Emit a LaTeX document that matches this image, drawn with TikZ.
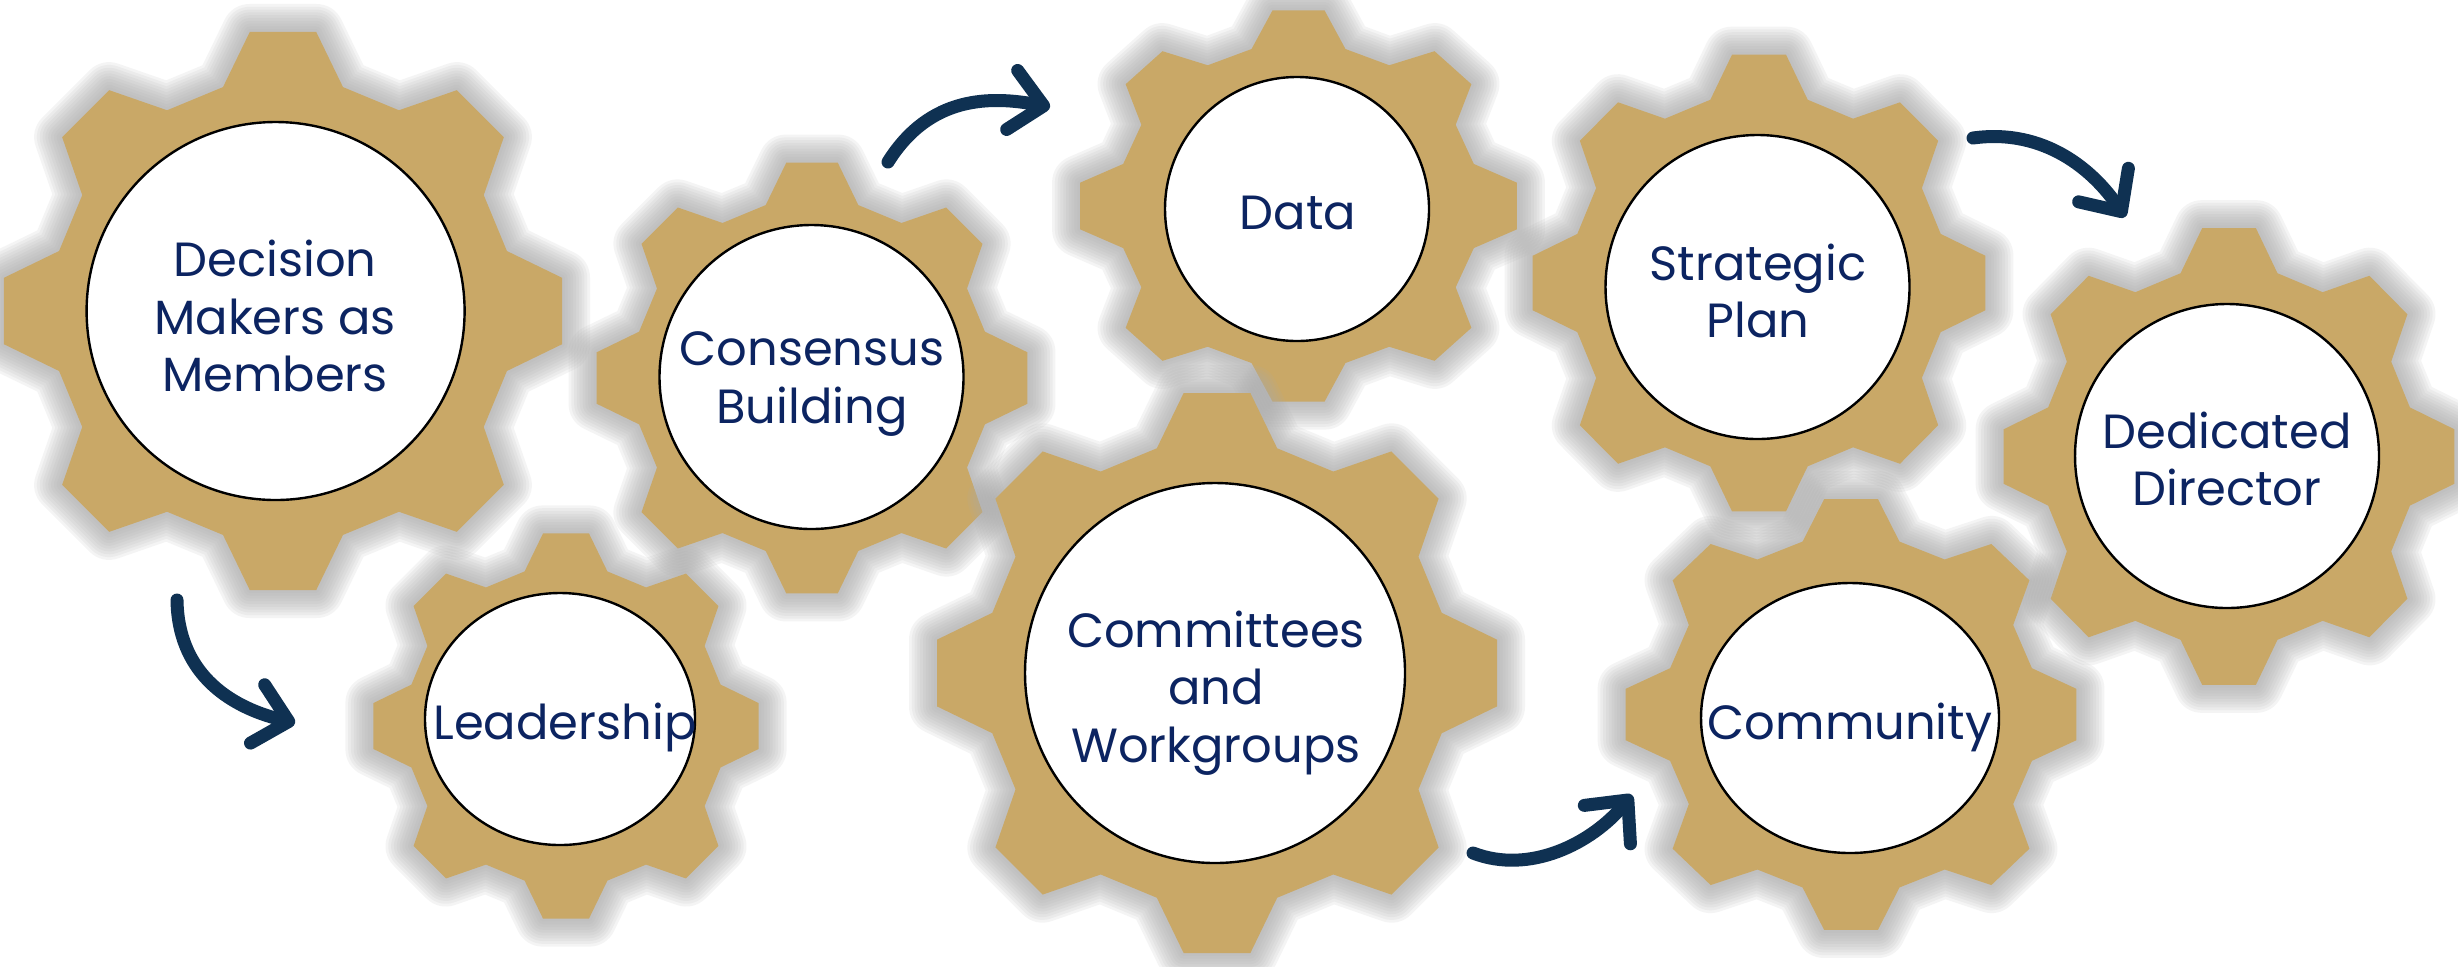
\documentclass[tikz,border=0pt]{standalone}
\usepackage{fontspec}
\setmainfont{Poppins}
\usetikzlibrary{arrows.meta,shapes.geometric}
\definecolor{gold}{RGB}{201,168,103}
\definecolor{txtc}{RGB}{12,36,97}
\definecolor{arrowc}{RGB}{15,49,82}
\definecolor{glowc}{RGB}{172,172,172}
\newcommand\gearat[4]{%
  \begin{scope}[shift={(#1,#2)}, xscale=#3, yscale=#4]
    \foreach \w in {14pt,12.6pt,11.2pt,9.8pt,8.4pt,7pt,5.6pt,4.2pt,2.8pt,1.4pt}{
      \draw[glowc, line width=\w, line join=round, opacity=0.12]
        ({-15}:0.825) \foreach \t in {0,45,...,315}{
          -- ({\t-15}:0.825) -- ({\t-6.8}:1) -- ({\t+6.8}:1) -- ({\t+15}:0.825)} -- cycle;
    }
    \fill[gold] ({-15}:0.825) \foreach \t in {0,45,...,315}{
          -- ({\t-15}:0.825) -- ({\t-6.8}:1) -- ({\t+6.8}:1) -- ({\t+15}:0.825)} -- cycle;
  \end{scope}}
\tikzset{
  disk/.style={circle, draw=black, line width=0.6pt, fill=white, inner sep=0pt},
  oval/.style={ellipse, draw=black, line width=0.6pt, fill=white, inner sep=0pt},
  lbl/.style={font=\fontsize{12}{14.4}\selectfont, text=txtc, align=center, inner sep=0pt},
  flow/.style={draw=arrowc, line width=3.25pt, line cap=round,
    -{Straight Barb[length=8pt,width=15pt,round]}}
}
\begin{document}
\begin{tikzpicture}[x=0.25pt,y=-0.25pt]
\useasboundingbox (0,0) rectangle (2458,966);
\fill[white] (0,0) rectangle (2458,966);
% Decision Makers
\gearat{283}{311}{281}{281}
\node[disk, minimum size=94.5pt] (dmc) at (275.6,311) {};
\node[lbl] (dm) at (275,316) {Decision\\Makers as\\Members};
% Consensus Building
\gearat{812}{378}{217}{217}
\node[disk, minimum size=76pt] (cbc) at (811.5,377) {};
\node[lbl] (cb) at (812,384) {Consensus\\Building};
% Data
\gearat{1298.5}{206}{220}{197}
\node[disk, minimum size=66pt] (dac) at (1297,209) {};
\node[lbl] (da) at (1298,213) {Data};
% Strategic Plan
\gearat{1759}{283}{228}{230}
\node[disk, minimum size=76pt] (spc) at (1757.5,287) {};
\node[lbl] (sp) at (1758,291) {Strategic\\Plan};
% Dedicated Director
\gearat{2229}{456.5}{227}{230}
\node[disk, minimum size=76pt] (ddc) at (2227,456) {};
\node[lbl] (dd) at (2227,459) {Dedicated\\Director};
% Leadership
\gearat{566}{726}{194}{194}
\node[oval, minimum width=67.5pt, minimum height=63pt] (lec) at (560,719) {};
\node[lbl] (le) at (565,727) {Leadership};
% Committees and Workgroups
\gearat{1217}{673}{282}{282}
\node[disk, minimum size=95pt] (cwc) at (1215,673) {};
\node[lbl] (cw) at (1216,693) {Committees\\and\\Workgroups};
% Community
\gearat{1851}{714.5}{227}{217}
\node[oval, minimum width=74.5pt, minimum height=67.5pt] (coc) at (1850,718) {};
\node[lbl] (co) at (1850,727) {Community};
% arrows
\coordinate (a1s) at (177,600);  \coordinate (a1e) at (295,723);
\coordinate (a2s) at (888,162);  \coordinate (a2e) at (1050,107);
\coordinate (a3s) at (1473,853); \coordinate (a3e) at (1632,795);
\coordinate (a4s) at (1973,138); \coordinate (a4e) at (2125,217);
\draw[flow] (a1s) .. controls (178,670) and (225,706) .. (a1e);
\draw[flow] (a2s) .. controls (930,95) and (991,96) .. (a2e);
\draw[flow] (a3s) .. controls (1530,875) and (1592,843) .. (a3e);
\draw[flow] (a4s) .. controls (2045,128) and (2094,171) .. (a4e);
\end{tikzpicture}
\end{document}
